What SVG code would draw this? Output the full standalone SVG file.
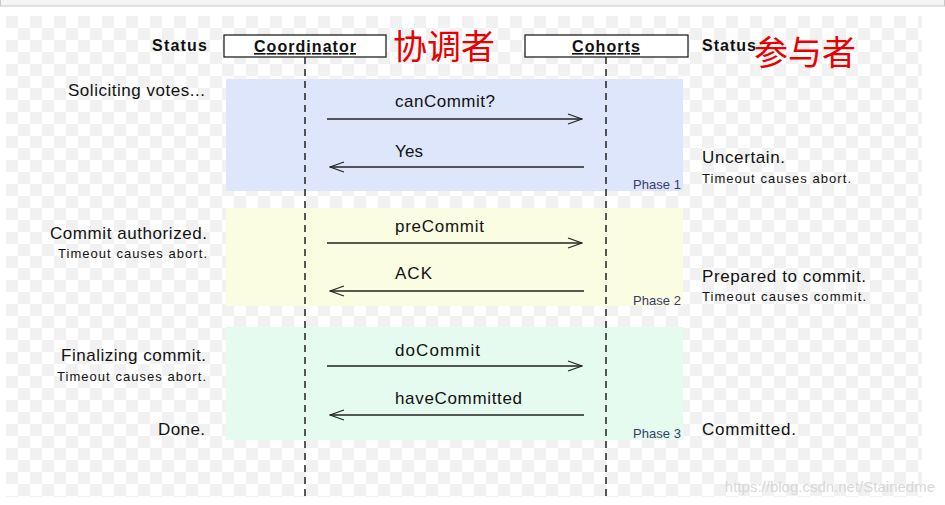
<svg xmlns="http://www.w3.org/2000/svg" width="945" height="505" viewBox="0 0 945 505">
<defs>
<pattern id="ck" x="6" y="16" width="24" height="24" patternUnits="userSpaceOnUse">
<rect width="24" height="24" fill="#fff"/><rect width="12" height="12" fill="#f1f1f1"/><rect x="12" y="12" width="12" height="12" fill="#f1f1f1"/>
</pattern>
<marker id="ah" markerWidth="16" markerHeight="12" refX="15" refY="6" orient="auto" markerUnits="userSpaceOnUse">
<path d="M1,1 L15,6 L1,11" fill="none" stroke="#222" stroke-width="1.3"/>
</marker>
<style>
text{font-family:"Liberation Sans",Arial,sans-serif;fill:#111}
.t{font-size:17px}.s{font-size:13px}.p{font-size:13px;fill:#3a3a6a}.b{font-size:16px;font-weight:bold}
.cn{font-size:34px;fill:#e60000;font-family:"Noto Sans CJK SC",sans-serif}
.msg{stroke:#222;stroke-width:1.3;marker-end:url(#ah)}
.life{stroke:#222;stroke-width:1.5;stroke-dasharray:7,5}
</style>
</defs>
<rect width="945" height="505" fill="#fff"/>
<rect x="0.5" y="-2" width="944" height="8" fill="#f4f5f7" stroke="#c8c8c8"/>
<rect x="6" y="16" width="916" height="481" fill="url(#ck)"/>
<g id="phase1"><rect x="226" y="79" width="457" height="112" fill="#dde6fb"/><text class="p" x="633" y="189" textLength="48">Phase 1</text></g>
<g id="phase2"><rect x="226" y="208" width="457" height="98" fill="#fbfde3"/><text class="p" x="633" y="305" textLength="48">Phase 2</text></g>
<g id="phase3"><rect x="226" y="327" width="457" height="113" fill="#e6fbef"/><text class="p" x="633" y="438" textLength="48">Phase 3</text></g>
<g id="coordinator"><rect x="224" y="35" width="162" height="22" fill="#fff" stroke="#222" stroke-width="1.3"/><text class="b" x="254" y="52" textLength="102" text-decoration="underline">Coordinator</text><text class="cn" x="393" y="59">协调者</text></g>
<g id="cohorts"><rect x="525" y="35" width="163" height="22" fill="#fff" stroke="#222" stroke-width="1.3"/><text class="b" x="572" y="52" textLength="68" text-decoration="underline">Cohorts</text><text class="cn" x="754" y="65">参与者</text></g>
<g id="status-left">
<text class="b" x="152" y="51" textLength="55">Status</text>
<text class="t" x="68" y="96" textLength="137">Soliciting votes...</text>
<text class="t" x="50" y="239" textLength="157">Commit authorized.</text>
<text class="s" x="58" y="258" textLength="149">Timeout causes abort.</text>
<text class="t" x="61" y="361" textLength="145">Finalizing commit.</text>
<text class="s" x="57" y="381" textLength="149">Timeout causes abort.</text>
<text class="t" x="158" y="435" textLength="47">Done.</text>
</g>
<g id="status-right">
<text class="b" x="702" y="51" textLength="54">Status</text>
<text class="t" x="702" y="163" textLength="83">Uncertain.</text>
<text class="s" x="702" y="183" textLength="149">Timeout causes abort.</text>
<text class="t" x="702" y="282" textLength="164">Prepared to commit.</text>
<text class="s" x="702" y="301" textLength="164">Timeout causes commit.</text>
<text class="t" x="702" y="435" textLength="94">Committed.</text>
</g>
<g id="connectors">
<line class="life" x1="305" y1="57" x2="305" y2="497"/>
<line class="life" x1="606" y1="57" x2="606" y2="497"/>
<line class="msg" x1="327" y1="119" x2="582" y2="119"/><text class="t" x="395" y="107" textLength="100">canCommit?</text>
<line class="msg" x1="584" y1="167" x2="330" y2="167"/><text class="t" x="395" y="157" textLength="28">Yes</text>
<line class="msg" x1="327" y1="243" x2="582" y2="243"/><text class="t" x="395" y="232" textLength="89">preCommit</text>
<line class="msg" x1="584" y1="291" x2="330" y2="291"/><text class="t" x="395" y="279" textLength="37">ACK</text>
<line class="msg" x1="327" y1="366" x2="582" y2="366"/><text class="t" x="395" y="356" textLength="85">doCommit</text>
<line class="msg" x1="584" y1="415" x2="330" y2="415"/><text class="t" x="395" y="404" textLength="127">haveCommitted</text>
</g>
<text x="935" y="492" text-anchor="end" style="font-size:15px;fill:#d8d8d8">https://blog.csdn.net/Stainedme</text>
</svg>
